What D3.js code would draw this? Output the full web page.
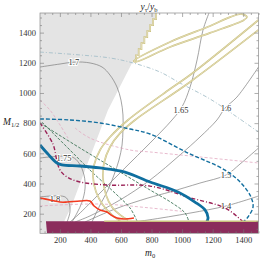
<!DOCTYPE html>
<html>
<head>
<meta charset="utf-8">
<script src="https://cdn.jsdelivr.net/npm/d3@7"></script>
<style>
  body { margin: 0; background: #fff; }
  svg { display: block; }
</style>
</head>
<body>
<div id="chart"></div>
<script>
// ---- data: points are [m0, M1/2] ----
const xTicks = [200, 400, 600, 800, 1000, 1200, 1400];
const yTicks = [200, 400, 600, 800, 1000, 1200, 1400];

const grayStairs = [[829,1530],[829,1490],[810,1490],[810,1450],[791,1450],[791,1410],[772,1410],[772,1370],
  [753,1370],[753,1330],[734,1330],[734,1290],[716,1290],[716,1250],[698,1250],[698,1212],[679,1212]];
const grayEdge = [[679,1212],[515,887],[365,489],[279,258],[227,145],[214,70]];

const pencilLoop = [[685,1212],[921,1338],[1183,1444],[1314,1503],[1392,1523],[1425,1503],[1405,1484],
  [1183,1398],[921,1305],[692,1206]];
const tanOuter = [[1500,1484],[1052,1119],[921,1026],[646,821],[528,708],[463,622],[424,523],[417,443],
  [437,344],[482,258],[541,192],[594,152]];
const tanInner = [[1500,1418],[1052,1073],[692,821],[594,734],[528,642],[489,536],[482,436],[502,324],
  [541,245],[594,192],[646,158]];
const tanBase = [[490,150],[1500,150]];

const maroonRegion = [[109,150],[1500,150],[1500,70],[116,70]];

const blueThick = [[70,655],[122,595],[181,536],[214,523],[332,516],[463,503],[626,476],[790,410],
  [973,344],[1084,277],[1150,225],[1170,172],[1157,139]];
const blueDashed = [[70,828],[266,821],[463,801],[659,761],[790,728],[1039,602],[1281,489],[1386,403],
  [1451,310],[1464,244],[1431,178],[1399,145]];
const maroonDash = [[70,801],[155,661],[181,549],[201,489],[247,443],[332,410],[508,390],[790,383],
  [1058,304],[1281,238],[1386,158],[1405,138]];
const greenOuter = [[70,801],[332,635],[594,476],[790,357],[934,271],[1019,205],[1045,145]];
const greenInner = [[83,807],[155,734],[266,622],[397,489],[574,324],[659,238],[705,152]];
const redLine = [[70,304],[135,291],[201,277],[247,277],[332,284],[397,284],[424,251],[463,225],
  [508,211],[535,191],[574,171],[620,165],[685,171]];
const pink1 = [[70,953],[135,887],[201,788],[253,701]];
const pink2 = [[299,768],[397,701],[659,622],[790,609],[1117,576],[1500,536]];
const pink3 = [[70,251],[463,264],[790,238],[1000,215]];
const lightDashDot = [[70,1271],[332,1252],[528,1232],[679,1199],[855,1139],[986,1066],[1183,960],
  [1359,841],[1500,741]];

const c180 = [[70,311],[234,311],[260,271],[266,211],[247,145]];
const c175 = [[70,569],[279,576],[325,536],[358,456],[365,370],[345,277],[312,204],[279,145]];
const c170 = [[70,1172],[201,1192],[299,1205],[397,1199],[476,1172],[528,1119],[574,1039],[600,953],
  [613,854],[613,755],[607,655],[587,556],[554,456],[515,357],[463,258],[410,145]];
const c165 = [[1176,1530],[1137,1418],[1098,1219],[1052,1039],[999,907],[934,821],[790,668],[626,503],
  [463,337],[319,192],[266,145]];
const c160 = [[1500,1172],[1359,973],[1281,900],[1228,821],[1117,708],[986,589],[790,423],[594,291],
  [397,185],[299,145]];
const c150 = [[1500,635],[1379,529],[1287,456],[1117,403],[921,344],[777,304],[561,231],[365,145]];
const c140 = [[1500,317],[1287,251],[1052,204],[777,158],[626,138]];
const contours = [c180, c175, c170, c165, c160, c150, c140];
const contourLabels = [["1.8",168,297],["1.75",227,569],["1.7",292,1202],["1.65",993,887],
  ["1.6",1287,900],["1.5",1287,456],["1.4",1287,251]];

// ---- chart ----
const W = 261, H = 261;
const x = d3.scaleLinear().domain([70, 1500]).range([40, 258.5]);
const y = d3.scaleLinear().domain([70, 1530]).range([233.3, 13]);

const svg = d3.select("#chart").append("svg").attr("width", W).attr("height", H);

svg.append("clipPath").attr("id", "plot")
  .append("rect").attr("x", 40).attr("y", 13).attr("width", 218.5).attr("height", 220.3);

const smooth = d3.line().x(d => x(d[0])).y(d => y(d[1])).curve(d3.curveCatmullRom.alpha(0.5));
const straight = d3.line().x(d => x(d[0])).y(d => y(d[1]));
const closedSmooth = d3.line().x(d => x(d[0])).y(d => y(d[1])).curve(d3.curveCatmullRomClosed.alpha(0.5));

const g = svg.append("g").attr("clip-path", "url(#plot)");

// excluded region
const grayPoly = [[70,1530]].concat(grayStairs, grayEdge.slice(1), [[70,70]]);
g.append("path").attr("d", straight(grayPoly) + "Z").attr("fill", "#e4e4e4");

// y_t/y_b contours
contours.forEach(c => {
  g.append("path").attr("d", smooth(c)).attr("fill", "none")
    .attr("stroke", "#7d7d7d").attr("stroke-width", 0.7);
});
g.selectAll(".clab").data(contourLabels).enter().append("text")
  .attr("x", d => x(d[1])).attr("y", d => y(d[2]))
  .attr("text-anchor", "middle").attr("dominant-baseline", "central")
  .attr("font-family", "Liberation Serif, serif").attr("font-size", 8.5)
  .attr("fill", "#333").attr("stroke", "#fff").attr("stroke-width", 2)
  .attr("paint-order", "stroke")
  .text(d => d[0]);

// thin dashed lines
g.append("path").attr("d", smooth(lightDashDot)).attr("fill", "none")
  .attr("stroke", "#a6bfca").attr("stroke-width", 0.9).attr("stroke-dasharray", "4,2,1,2");
[pink1, pink2, pink3].forEach(p => {
  g.append("path").attr("d", smooth(p)).attr("fill", "none")
    .attr("stroke", "#e2a9c1").attr("stroke-width", 0.8).attr("stroke-dasharray", "3,2");
});
[greenOuter, greenInner].forEach(p => {
  g.append("path").attr("d", smooth(p)).attr("fill", "none")
    .attr("stroke", "#3f7558").attr("stroke-width", 0.9).attr("stroke-dasharray", "3,1.5");
});

// tan double lines
const tanPaths = [
  straight(grayStairs),
  closedSmooth(pencilLoop),
  smooth(tanOuter),
  smooth(tanInner)
];
tanPaths.forEach(d => {
  g.append("path").attr("d", d).attr("fill", "none").attr("stroke", "#c9bf7c").attr("stroke-width", 1.7);
  g.append("path").attr("d", d).attr("fill", "none").attr("stroke", "#faf7ea").attr("stroke-width", 0.5);
});

// coloured bounds
g.append("path").attr("d", smooth(blueDashed)).attr("fill", "none")
  .attr("stroke", "#136f9f").attr("stroke-width", 1.4).attr("stroke-dasharray", "4,2");
g.append("path").attr("d", smooth(maroonDash)).attr("fill", "none")
  .attr("stroke", "#9a2156").attr("stroke-width", 1.4).attr("stroke-dasharray", "4,2,1,2");
g.append("path").attr("d", smooth(blueThick)).attr("fill", "none")
  .attr("stroke", "#0f6f9f").attr("stroke-width", 2.8);
g.append("path").attr("d", smooth(redLine)).attr("fill", "none")
  .attr("stroke", "#f23a1f").attr("stroke-width", 1.6);

// bottom excluded band
g.append("path").attr("d", straight(maroonRegion) + "Z").attr("fill", "#8b2d5c");
g.append("path").attr("d", straight(tanBase)).attr("fill", "none")
  .attr("stroke", "#c9bf7c").attr("stroke-width", 1.6);

// ---- axes (ticks inside, Mathematica style) ----
const minor = d3.range(100, 1501, 50).filter(v => v % 200 !== 0);
const font = "Liberation Serif, serif";
const fmt = d3.format("d");

function styleAxis(sel) {
  sel.select(".domain").remove();
  sel.selectAll("line").attr("stroke", "#777").attr("stroke-width", 0.6);
  sel.selectAll("text").attr("font-family", font).attr("font-size", 8.5).attr("fill", "#333");
}

svg.append("g").attr("transform", "translate(40,0)")
  .call(d3.axisLeft(y).tickValues(yTicks).tickFormat(fmt).tickSize(-4).tickPadding(4)).call(styleAxis);
svg.append("g").attr("transform", "translate(40,0)")
  .call(d3.axisLeft(y).tickValues(minor.filter(v => v > 70 && v < 1530)).tickSize(-2).tickFormat("")).call(styleAxis);
svg.append("g").attr("transform", "translate(258.5,0)")
  .call(d3.axisRight(y).tickValues(yTicks).tickSize(-4).tickFormat("")).call(styleAxis);
svg.append("g").attr("transform", "translate(258.5,0)")
  .call(d3.axisRight(y).tickValues(minor.filter(v => v > 70 && v < 1530)).tickSize(-2).tickFormat("")).call(styleAxis);

svg.append("g").attr("transform", "translate(0,233.3)")
  .call(d3.axisBottom(x).tickValues(xTicks).tickFormat(fmt).tickSize(-4).tickPadding(3.5)).call(styleAxis);
svg.append("g").attr("transform", "translate(0,233.3)")
  .call(d3.axisBottom(x).tickValues(minor.filter(v => v > 70)).tickSize(-2).tickFormat("")).call(styleAxis);
svg.append("g").attr("transform", "translate(0,13)")
  .call(d3.axisTop(x).tickValues(xTicks).tickSize(-4).tickFormat("")).call(styleAxis);
svg.append("g").attr("transform", "translate(0,13)")
  .call(d3.axisTop(x).tickValues(minor.filter(v => v > 70)).tickSize(-2).tickFormat("")).call(styleAxis);

// frame
svg.append("rect").attr("x", 40).attr("y", 13).attr("width", 218.5).attr("height", 220.3)
  .attr("fill", "none").attr("stroke", "#8a8a8a").attr("stroke-width", 0.7);

// titles
const tTop = svg.append("text").attr("x", 149).attr("y", 9.5).attr("text-anchor", "middle")
  .attr("font-family", font).attr("font-size", 9.5).attr("fill", "#222");
tTop.append("tspan").attr("font-style", "italic").text("y");
tTop.append("tspan").attr("font-size", 6.5).attr("dy", 2).text("τ");
tTop.append("tspan").attr("dy", -2).text("/");
tTop.append("tspan").attr("font-style", "italic").text("y");
tTop.append("tspan").attr("font-size", 6.5).attr("dy", 2).text("b");

const tLeft = svg.append("text").attr("x", 3).attr("y", 125)
  .attr("font-family", font).attr("font-size", 9.5).attr("fill", "#222");
tLeft.append("tspan").attr("font-style", "italic").text("M");
tLeft.append("tspan").attr("font-size", 6.5).attr("dy", 2).text("1/2");

const tBot = svg.append("text").attr("x", 145).attr("y", 256)
  .attr("font-family", font).attr("font-size", 9.5).attr("fill", "#222");
tBot.append("tspan").attr("font-style", "italic").text("m");
tBot.append("tspan").attr("font-size", 6.5).attr("dy", 2).text("0");
</script>
</body>
</html>
